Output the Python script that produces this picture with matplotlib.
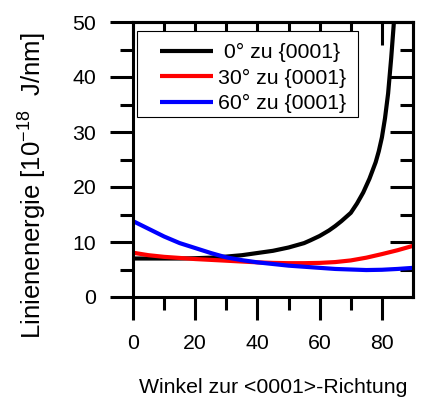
import matplotlib
matplotlib.use("Agg")
import matplotlib.pyplot as plt
from matplotlib.patches import Rectangle
import numpy as np

plt.rcParams['font.family'] = ['Liberation Sans', 'DejaVu Sans']
plt.rcParams['mathtext.fontset'] = 'custom'
plt.rcParams['mathtext.rm'] = 'Liberation Sans'
plt.rcParams['mathtext.it'] = 'Liberation Sans:italic'
plt.rcParams['mathtext.bf'] = 'Liberation Sans:bold'

# Line energy vs. angle to the <0001> direction
angle_0 = [0, 5, 10, 15, 20, 25, 30, 35, 40, 45, 50, 55, 57, 60, 63, 65, 67, 70, 72, 74,
           76, 78, 79, 80, 81, 82, 83, 84, 85]
energy_0 = [7.0, 7.0, 7.0, 7.0, 7.05, 7.15, 7.35, 7.6, 8.0, 8.4, 9.0, 9.8, 10.3, 11.1, 12.1,
            12.9, 13.8, 15.3, 17.0, 19.0, 21.5, 24.5, 26.5, 29.0, 32.5, 37.0, 43.5, 51.0, 58.0]

angle_30 = [0, 5, 10, 15, 20, 25, 30, 35, 40, 45, 50, 55, 60, 65, 70, 75, 80, 85, 90]
energy_30 = [8.05, 7.6, 7.3, 7.1, 6.9, 6.75, 6.6, 6.45, 6.3, 6.2, 6.15, 6.15, 6.2, 6.35, 6.65,
             7.15, 7.8, 8.5, 9.3]

angle_60 = [0, 5, 10, 15, 20, 25, 30, 35, 40, 45, 50, 55, 60, 65, 70, 75, 80, 85, 90]
energy_60 = [13.8, 12.4, 11.0, 9.8, 8.9, 8.0, 7.2, 6.7, 6.3, 6.0, 5.7, 5.5, 5.3, 5.1, 5.0,
             4.9, 4.95, 5.1, 5.3]

labels = [" 0° zu {0001}", "30° zu {0001}", "60° zu {0001}"]
colors = ["black", "red", "blue"]

x_ticks = [0, 20, 40, 60, 80]
y_ticks = [0, 10, 20, 30, 40, 50]

fig = plt.figure(figsize=(4.21, 3.99), dpi=100)
ax = fig.add_axes([133 / 421, 1 - 297 / 399, 280 / 421, 275 / 399])

for xs, ys, lab, col in zip([angle_0, angle_30, angle_60],
                            [energy_0, energy_30, energy_60], labels, colors):
    ax.plot(xs, ys, color=col, lw=3.0, label=lab, solid_capstyle='butt',
            solid_joinstyle='round')

ax.set_xlim(0, 90)
ax.set_ylim(0, 50)
ax.set_xticks(x_ticks)
ax.set_yticks(y_ticks)
ax.set_xticks(np.arange(10, 90, 20), minor=True)
ax.set_yticks(np.arange(5, 50, 10), minor=True)

for s in ax.spines.values():
    s.set_linewidth(2.2)

fs = 15.3
ax.tick_params(axis='both', which='major', length=16.5, width=2.2, labelsize=fs, pad=10)
ax.tick_params(axis='both', which='minor', length=9.5, width=2.2)
ax.tick_params(axis='x', which='both', direction='out', top=False)
ax.tick_params(axis='y', which='both', direction='out', right=False)

# mirrored inward ticks on the top and right
secx = ax.secondary_xaxis('top')
secx.set_xticks(x_ticks)
secx.set_xticks(np.arange(10, 90, 20), minor=True)
secx.tick_params(which='major', direction='in', length=16.5, width=2.2, labeltop=False)
secx.tick_params(which='minor', direction='in', length=9.5, width=2.2)
secx.spines['top'].set_linewidth(2.2)

secy = ax.secondary_yaxis('right')
secy.set_yticks(y_ticks)
secy.set_yticks(np.arange(5, 50, 10), minor=True)
secy.tick_params(which='major', direction='in', length=16.5, width=2.2, labelright=False)
secy.tick_params(which='minor', direction='in', length=9.5, width=2.2)
secy.spines['right'].set_linewidth(2.2)

ax.set_xlabel("Winkel zur <0001>-Richtung", fontsize=fs)
ax.xaxis.set_label_coords(0.5, -0.295)
ax.set_ylabel(r"Linienenergie [10$^{\mathregular{-18}}$  J/nm]", fontsize=18.5)
ax.yaxis.set_label_coords(-0.30, 0.405)

# legend box with extra room on the left
box = Rectangle((0.0143, 0.6545), 0.789, 0.3127, transform=ax.transAxes,
                facecolor='white', edgecolor='black', lw=0.8, zorder=9)
ax.add_patch(box)
leg = ax.legend(loc='center left', bbox_to_anchor=(27 / 280, 219 / 275), fontsize=fs,
                frameon=False, handlelength=2.5, handletextpad=0.25, labelspacing=0.3,
                borderpad=0, borderaxespad=0)
leg.set_zorder(10)

fig.savefig("out.png", dpi=100)
